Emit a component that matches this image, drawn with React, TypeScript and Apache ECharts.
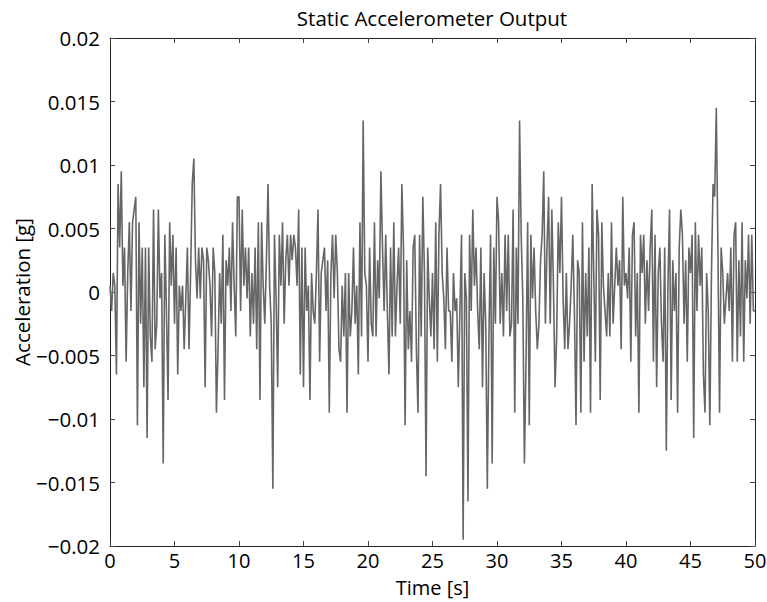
import React, { useEffect, useRef } from "react";
import * as echarts from "echarts";

// Acceleration samples in milli-g, 8 samples per second (one row per second), t = 0 .. 50 s
const accelMg: number[] = [
  0.5, -1.5, 1.5, 0.5, -6.5, 8.5, 3.5, 9.5,
  0.5, 3.5, -5.5, 1.5, 5.5, -1.5, 5.5, 6.5,
  7.5, -10.5, 5.5, -2.5, 3.5, -7.5, 3.5, -11.5,
  3.5, -3.5, -5.5, 6.5, -4.5, -2.5, 6.5, -0.5,
  1.5, -13.5, 4.5, -1.5, -8.5, 5.5, 0.5, 4.5,
  -2.5, 3.5, -6.5, 0.5, -1.5, 0.5, -4.5, -0.5,
  3.5, -4.5, 1.5, 8.5, 10.5, 2.5, -0.5, 3.5,
  -0.5, 3.5, 2.5, -7.5, 3.5, 2.5, 0.5, -3.5,
  3.5, 1.5, -9.5, -4.5, 1.5, -2.5, 4.5, -8.5,
  2.5, 0.5, 3.5, -1.5, 5.5, 0.5, -3.5, 7.5,
  7.5, -1.5, 6.5, 0.5, 3.5, -0.5, 3.5, -3.5,
  1.5, -2.5, 3.5, -4.5, 5.5, -8.5, 5.5, 0.5,
  -2.5, 2.5, 8.5, 0.5, -2.5, -15.5, 4.5, -0.5,
  -7.5, 4.5, 0.5, 5.5, -2.5, 2.5, 4.5, 0.5,
  4.5, 2.5, 4.5, 3.5, 0.5, 6.5, -6.5, 3.5,
  -7.5, 3.5, -1.5, 0.5, -8.5, 1.5, -1.5, -2.5,
  1.5, 6.5, -5.5, 1.5, 2.5, 3.5, -1.5, 2.5,
  -9.5, 1.5, 4.5, -0.5, 4.5, 1.5, -4.5, -5.5,
  0.5, -3.5, 1.5, -9.5, 1.5, -3.5, -1.5, 3.5,
  -2.5, 0.5, -6.5, 5.5, -3.5, 13.5, 1.5, 0.5,
  -5.5, 3.5, -2.5, -3.5, 5.5, -3.5, 2.5, -0.5,
  9.5, 3.5, -1.5, 4.5, -1.5, -6.5, 3.5, -3.5,
  5.5, -3.5, 0.5, 3.5, -2.5, 8.5, 3.5, -10.5,
  2.5, -4.5, -1.5, -5.5, 3.5, 4.5, -4.5, -9.5,
  4.5, -3.5, 7.5, 1.5, -14.5, 3.5, -0.5, -3.5,
  1.5, -4.5, 5.5, -5.5, 4.5, 8.5, 1.5, -0.5,
  -4.5, 3.5, -1.5, -1.5, -5.5, 1.5, -1.5, -0.5,
  -7.5, -1.5, 4.5, -19.5, 1.5, -0.5, -16.5, 4.5,
  -1.5, 6.5, 0.5, 3.5, -1.5, -4.5, 3.5, -7.5,
  1.5, -2.5, -15.5, -3.5, 4.5, -13.5, 3.5, -2.5,
  7.5, 5.5, -2.5, 1.5, -3.5, 4.5, -1.5, 4.5,
  -3.5, -2.5, 6.5, -9.5, 3.5, -2.5, 13.5, 4.5,
  -0.5, -13.5, -5.5, 5.5, -10.5, 4.5, -0.5, 3.5,
  -1.5, -4.5, -2.5, 2.5, 4.5, 9.5, -2.5, 3.5,
  7.5, -2.5, 6.5, 0.5, -7.5, -3.5, 5.5, 1.5,
  7.5, -0.5, -4.5, 1.5, -4.5, -2.5, 0.5, 4.5,
  -1.5, -10.5, 2.5, 1.5, -9.5, 5.5, -5.5, 1.5,
  -3.5, 3.5, -9.5, 8.5, 1.5, -5.5, 6.5, 4.5,
  -8.5, 5.5, 0.5, -1.5, -3.5, 1.5, -3.5, 5.5,
  -2.5, 0.5, 3.5, 0.5, 2.5, -4.5, 7.5, 0.5,
  1.5, -0.5, 3.5, -5.5, 4.5, 5.5, -3.5, 1.5,
  -9.5, 4.5, 1.5, 4.5, -2.5, 2.5, -1.5, 3.5,
  6.5, -5.5, 4.5, -7.5, 1.5, 3.5, -2.5, -5.5,
  3.5, -12.5, 0.5, 6.5, -8.5, 2.5, -1.5, 1.5,
  -9.5, 3.5, 6.5, 4.5, -2.5, 2.5, -5.5, 3.5,
  1.5, 4.5, -11.5, 5.5, -1.5, 4.5, 0.5, 3.5,
  -6.5, -9.5, 1.5, -1.5, -10.5, 1.5, 8.5, 7.5,
  14.5, 3.5, -9.5, 3.5, 1.5, -2.5, -0.5, 1.5,
  -1.5, 3.5, -5.5, 4.5, 5.5, -5.5, 2.5, -3.5,
  5.5, -5.5, 2.5, -0.5, 4.5, -2.5, 4.5, -1.5,
  -1.5,
];

const sampleRate = 8; // samples per second
const xTicks = [0, 5, 10, 15, 20, 25, 30, 35, 40, 45, 50];
const yTicks = [-0.02, -0.015, -0.01, -0.005, 0, 0.005, 0.01, 0.015, 0.02];
const titleText = "Static Accelerometer Output";

const FONT = "Open Sans";
const FS = 20.5;

function fmtY(v: number): string {
  const s = parseFloat(v.toFixed(4)).toString();
  return s.replace("-", "\u2212");
}

export default function App() {
  const ref = useRef<HTMLDivElement>(null);
  useEffect(() => {
    if (!ref.current) return;
    const chart = echarts.init(ref.current, undefined, { renderer: "svg" });
    const data = accelMg.map((v, i) => [i / sampleRate, v / 1000]);
    const tickStyle = { show: true, inside: true, length: 5, lineStyle: { color: "#444", width: 1 } };
    const lineStyle = { show: true, onZero: false, lineStyle: { color: "#222", width: 1 } };
    chart.setOption({
      animation: false,
      backgroundColor: "#fff",
      graphic: [
        {
          type: "text",
          x: 432,
          y: 18,
          style: {
            text: titleText,
            fontFamily: FONT,
            fontSize: FS,
            fill: "#000",
            textAlign: "center",
            textVerticalAlign: "middle",
          },
        },
      ],
      grid: {
        left: 110,
        right: 12,
        top: 38,
        bottom: 56,
        containLabel: false,
        outerBoundsMode: "none",
      },
      xAxis: [
        {
          type: "value",
          min: xTicks[0],
          max: xTicks[xTicks.length - 1],
          interval: 5,
          position: "bottom",
          name: "Time [s]",
          nameLocation: "middle",
          nameGap: 31,
          nameMoveOverlap: false,
          nameTextStyle: { fontFamily: FONT, fontSize: 20, color: "#000", lineHeight: 20 },
          axisLine: lineStyle,
          axisTick: tickStyle,
          splitLine: { show: false },
          axisLabel: { fontFamily: FONT, fontSize: 20, color: "#000", margin: 4, lineHeight: 20 },
        },
        {
          type: "value",
          min: xTicks[0],
          max: xTicks[xTicks.length - 1],
          interval: 5,
          position: "top",
          axisLine: lineStyle,
          axisTick: tickStyle,
          splitLine: { show: false },
          axisLabel: { show: false },
        },
      ],
      yAxis: [
        {
          type: "value",
          min: yTicks[0],
          max: yTicks[yTicks.length - 1],
          interval: 0.005,
          position: "left",
          name: "Acceleration [g]",
          nameLocation: "middle",
          nameGap: 78,
          nameMoveOverlap: false,
          nameTextStyle: { fontFamily: FONT, fontSize: FS, color: "#000" },
          axisLine: lineStyle,
          axisTick: tickStyle,
          splitLine: { show: false },
          axisLabel: { fontFamily: FONT, fontSize: FS, color: "#000", margin: 10, formatter: fmtY },
        },
        {
          type: "value",
          min: yTicks[0],
          max: yTicks[yTicks.length - 1],
          interval: 0.005,
          position: "right",
          axisLine: lineStyle,
          axisTick: tickStyle,
          splitLine: { show: false },
          axisLabel: { show: false },
        },
      ],
      series: [
        {
          type: "line",
          xAxisIndex: 0,
          yAxisIndex: 0,
          data,
          showSymbol: false,
          symbol: "none",
          lineStyle: { color: "#666666", width: 1.6 },
        },
      ],
    });
    return () => chart.dispose();
  }, []);
  return (
    <div
      ref={ref}
      style={{ position: "fixed", left: 0, top: 0, width: 767, height: 602, background: "#fff" }}
    />
  );
}
